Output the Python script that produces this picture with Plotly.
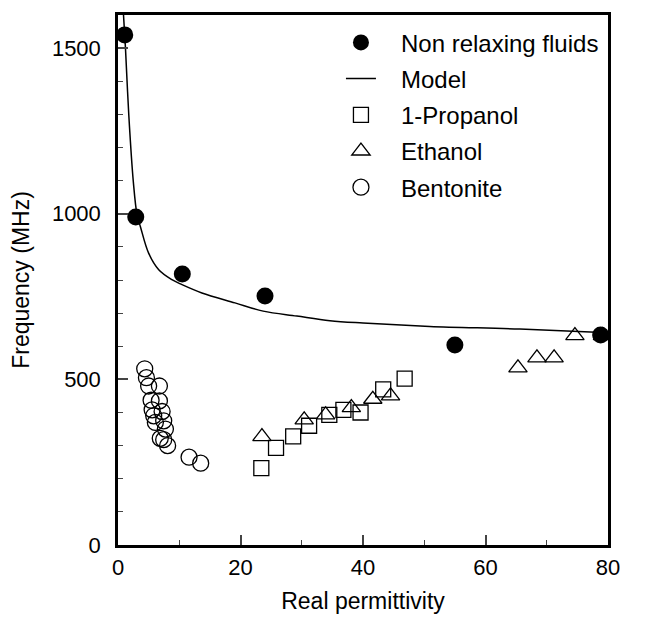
import plotly.graph_objects as go

# Non relaxing fluids (filled circles)
nr_eps = [1.1, 2.9, 10.5, 24.0, 55.0, 78.8]
nr_freq = [1540, 990, 818, 752, 604, 634]

# Model curve
model_eps = [0.9, 1.22, 1.76, 2.5, 3.1, 3.66, 5.0, 6.65, 8.8, 10.45, 13.7, 19.1, 23.7, 29.2, 34.6, 40.0, 50.9, 65.6, 80.0]
model_freq = [1600, 1500, 1299, 1097, 998, 961, 881, 831, 801, 786, 761, 731, 706, 691, 677, 670, 660, 652, 641]

# 1-Propanol (open squares)
prop_eps = [23.4, 25.8, 28.6, 31.2, 34.5, 36.8, 39.6, 43.3, 46.8]
prop_freq = [232, 293, 328, 360, 393, 408, 400, 470, 502]

# Ethanol (open triangles)
eth_eps = [23.5, 30.4, 33.9, 38.1, 41.6, 44.5, 65.3, 68.4, 71.2, 74.6, 79.1]
eth_freq = [327, 378, 393, 415, 440, 450, 535, 565, 565, 632, 632]

# Bentonite (open circles)
ben_eps = [4.36, 4.64, 5.0, 6.76, 5.4, 6.76, 5.57, 7.2, 5.83, 7.46, 6.1, 7.74, 6.9, 7.46, 8.1, 11.6, 13.5]
ben_freq = [532, 505, 480, 480, 437, 435, 408, 403, 390, 375, 370, 350, 322, 318, 300, 265, 247]

x_ticks = [0, 20, 40, 60, 80]
y_ticks = [0, 500, 1000, 1500]

FONT = "Liberation Sans, Arial, Helvetica, sans-serif"
PAD = "\u00a0\u00a0\u00a0"

fig = go.Figure()
fig.add_trace(go.Scatter(x=nr_eps, y=nr_freq, mode="markers", name=PAD + "Non relaxing fluids",
                         legendgroup="a",
                         marker=dict(symbol="circle", size=17, color="black")))
fig.add_trace(go.Scatter(x=model_eps, y=model_freq, mode="lines", name=PAD + "Model",
                         legendgroup="b", line=dict(color="black", width=1.5, shape="spline")))
fig.add_trace(go.Scatter(x=prop_eps, y=prop_freq, mode="markers", name=PAD + "1-Propanol",
                         legendgroup="c",
                         marker=dict(symbol="square-open", size=15, color="black", line=dict(width=1.3))))
fig.add_trace(go.Scatter(x=eth_eps, y=eth_freq, mode="markers", name=PAD + "Ethanol",
                         legendgroup="d",
                         marker=dict(symbol="triangle-up-open", size=16, color="black", line=dict(width=1.3))))
fig.add_trace(go.Scatter(x=ben_eps, y=ben_freq, mode="markers", name=PAD + "Bentonite",
                         legendgroup="e",
                         marker=dict(symbol="circle-open", size=16, color="black", line=dict(width=1.3))))

fig.update_layout(
    width=650, height=617,
    margin=dict(l=110, r=50, t=4, b=80),
    plot_bgcolor="white", paper_bgcolor="white",
    font=dict(family=FONT, size=22, color="black"),
    showlegend=True,
    legend=dict(x=0.455, y=0.99, xanchor="left", yanchor="top",
                bgcolor="rgba(0,0,0,0)", font=dict(size=24), tracegroupgap=2,
                itemwidth=30),
)
fig.update_xaxes(range=[0, 80], tickvals=x_ticks, ticks="inside", ticklen=10, tickwidth=1.5,
                 showline=True, linewidth=2.5, linecolor="black", mirror=True, showgrid=False,
                 zeroline=False, title=dict(text="Real permittivity", font=dict(size=23), standoff=14),
                 ticklabelstandoff=1,
                 minor=dict(tickvals=[10, 30, 50, 70], ticks="inside", ticklen=5, tickwidth=1.2, showgrid=False))
fig.update_yaxes(range=[0, 1600], tickvals=y_ticks, ticks="inside", ticklen=10, tickwidth=1.5,
                 showline=True, linewidth=2.5, linecolor="black", mirror=True, showgrid=False,
                 zeroline=False, title=dict(text="Frequency (MHz)", font=dict(size=23), standoff=22),
                 ticklabelstandoff=10,
                 minor=dict(tickvals=[100, 200, 300, 400, 600, 700, 800, 900, 1100, 1200, 1300, 1400, 1600],
                            ticks="inside", ticklen=5, tickwidth=1.2, showgrid=False))

fig.write_html("out.html")
